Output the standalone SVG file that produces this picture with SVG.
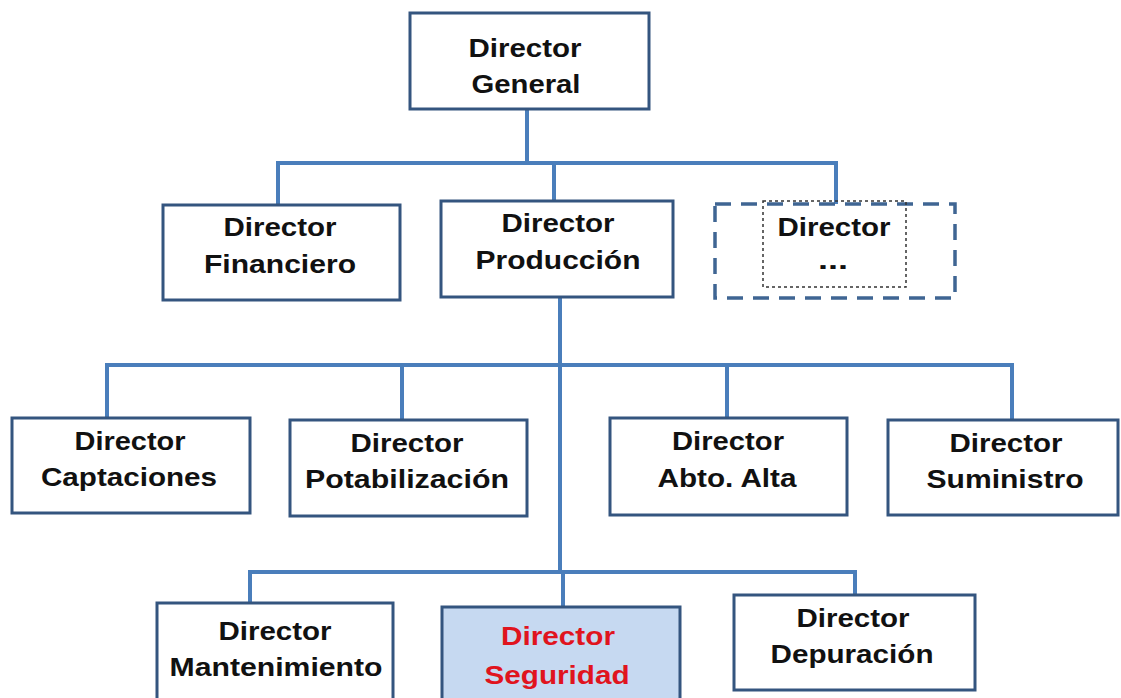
<svg xmlns="http://www.w3.org/2000/svg" width="1121" height="698" viewBox="0 0 1121 698">
<style>
.box{fill:#fff;stroke:#34557f;stroke-width:3}
.sel{fill:#c6d9f1;stroke:#34557f;stroke-width:3}
.dash{fill:#fff;stroke:#3f6593;stroke-width:3.5;stroke-dasharray:16 10}
.dot{fill:none;stroke:#333;stroke-width:1.5;stroke-dasharray:3 3}
.con{stroke:#4a7ebb;stroke-width:4;fill:none;stroke-linecap:square}
text{font-family:"Liberation Sans",Arial,sans-serif;font-weight:bold;font-size:26px;fill:#111;text-anchor:middle}
.red{fill:#e0141e}
</style>
<rect width="1121" height="698" fill="#fff"/>
<g id="connectors">
<path class="con" d="M527 109V163M278 205V163H836V204M554 163V201"/>
<path class="con" d="M560 297V572M107 418V365H1012V420M402 365V420M727 365V418"/>
<path class="con" d="M250 603V572H855V595M563 572V607"/>
</g>
<g id="n-general"><rect class="box" x="410" y="13" width="239" height="96"/>
<text x="525" y="57" textLength="113" lengthAdjust="spacingAndGlyphs">Director</text>
<text x="526" y="93" textLength="109" lengthAdjust="spacingAndGlyphs">General</text></g>
<g id="n-financiero"><rect class="box" x="163" y="205" width="237" height="95"/>
<text x="280" y="236" textLength="113" lengthAdjust="spacingAndGlyphs">Director</text>
<text x="280" y="273" textLength="152" lengthAdjust="spacingAndGlyphs">Financiero</text></g>
<g id="n-produccion"><rect class="box" x="441" y="201" width="232" height="96"/>
<text x="558" y="232" textLength="113" lengthAdjust="spacingAndGlyphs">Director</text>
<text x="558" y="269" textLength="165" lengthAdjust="spacingAndGlyphs">Producción</text></g>
<g id="n-otro"><rect class="dash" x="715" y="204" width="240" height="94"/>
<rect class="dot" x="763" y="201" width="143" height="86"/>
<text x="834" y="236" textLength="113" lengthAdjust="spacingAndGlyphs">Director</text>
<text x="833" y="269" textLength="30" lengthAdjust="spacingAndGlyphs">...</text></g>
<g id="n-captaciones"><rect class="box" x="12" y="418" width="238" height="95"/>
<text x="130" y="450" textLength="111" lengthAdjust="spacingAndGlyphs">Director</text>
<text x="129" y="486" textLength="176" lengthAdjust="spacingAndGlyphs">Captaciones</text></g>
<g id="n-potabilizacion"><rect class="box" x="290" y="420" width="237" height="96"/>
<text x="407" y="452" textLength="113" lengthAdjust="spacingAndGlyphs">Director</text>
<text x="407" y="488" textLength="204" lengthAdjust="spacingAndGlyphs">Potabilización</text></g>
<g id="n-abto"><rect class="box" x="610" y="418" width="237" height="97"/>
<text x="728" y="450" textLength="112" lengthAdjust="spacingAndGlyphs">Director</text>
<text x="727" y="487" textLength="139" lengthAdjust="spacingAndGlyphs">Abto. Alta</text></g>
<g id="n-suministro"><rect class="box" x="888" y="420" width="230" height="95"/>
<text x="1006" y="452" textLength="113" lengthAdjust="spacingAndGlyphs">Director</text>
<text x="1005" y="488" textLength="157" lengthAdjust="spacingAndGlyphs">Suministro</text></g>
<g id="n-mantenimiento"><rect class="box" x="157" y="603" width="236" height="110"/>
<text x="275" y="640" textLength="113" lengthAdjust="spacingAndGlyphs">Director</text>
<text x="276" y="676" textLength="213" lengthAdjust="spacingAndGlyphs">Mantenimiento</text></g>
<g id="n-seguridad"><rect class="sel" x="442" y="607" width="238" height="110"/>
<text class="red" x="558" y="645" textLength="114" lengthAdjust="spacingAndGlyphs">Director</text>
<text class="red" x="557" y="684" textLength="145" lengthAdjust="spacingAndGlyphs">Seguridad</text></g>
<g id="n-depuracion"><rect class="box" x="734" y="595" width="241" height="95"/>
<text x="853" y="627" textLength="113" lengthAdjust="spacingAndGlyphs">Director</text>
<text x="852" y="663" textLength="163" lengthAdjust="spacingAndGlyphs">Depuración</text></g>
</svg>
